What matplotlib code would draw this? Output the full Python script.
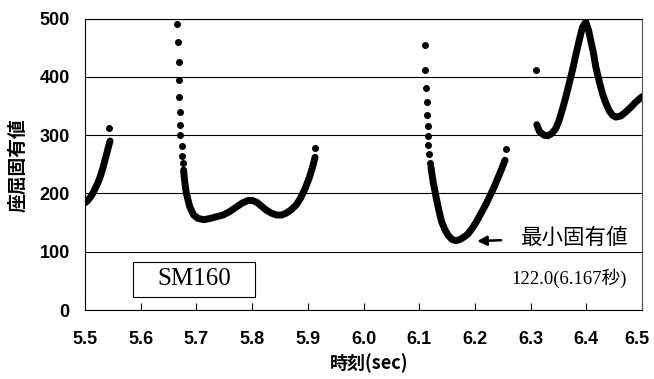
import matplotlib
matplotlib.use("Agg")
import matplotlib.pyplot as plt
import matplotlib.transforms as mtransforms
from matplotlib.patches import Rectangle

# buckling eigenvalue vs time
seg1_t = [5.500, 5.505, 5.509, 5.514, 5.518, 5.523, 5.527, 5.532, 5.536, 5.540, 5.542, 5.545]
seg1_v = [184, 188, 193, 200, 208, 218, 228, 243, 258, 272, 280, 290]
seg1_dot_t = [5.543]
seg1_dot_v = [313]

seg2_dot_t = [5.666, 5.667, 5.668, 5.668, 5.669, 5.670, 5.671, 5.671, 5.674, 5.674, 5.676]
seg2_dot_v = [490, 459, 426, 394, 365, 339, 317, 300, 281, 265, 252]
seg2_t = [5.677, 5.679, 5.682, 5.688, 5.695, 5.703, 5.714, 5.724, 5.736, 5.748,
          5.760, 5.772, 5.783, 5.793, 5.800, 5.808, 5.817, 5.826, 5.835, 5.844,
          5.853, 5.861, 5.870, 5.879, 5.887, 5.895, 5.903, 5.909, 5.913]
seg2_v = [240, 220, 200, 177, 163, 157, 155, 157, 160, 163,
          169, 177, 184, 188, 188, 185, 178, 171, 166, 163,
          163, 166, 172, 180, 192, 208, 228, 247, 262]
seg2_end_t = [5.913]
seg2_end_v = [278]

seg3_dot_t = [6.111, 6.111, 6.113, 6.114, 6.114, 6.115, 6.115, 6.116, 6.117, 6.119]
seg3_dot_v = [454, 412, 381, 357, 334, 315, 298, 283, 268, 252]
seg3_t = [6.121, 6.125, 6.130, 6.135, 6.140, 6.146, 6.152, 6.159, 6.166, 6.173,
          6.180, 6.187, 6.195, 6.203, 6.211, 6.219, 6.226, 6.234, 6.241, 6.248, 6.254]
seg3_v = [245, 220, 195, 172, 152, 138, 128, 121, 119, 121,
          125, 130, 140, 152, 166, 180, 194, 210, 226, 242, 257]
seg3_end_t = [6.256]
seg3_end_v = [277]

seg4_dot_t = [6.310]
seg4_dot_v = [412]
seg4_t = [6.311, 6.316, 6.324, 6.331, 6.338, 6.345, 6.351, 6.357, 6.363, 6.369,
          6.375, 6.381, 6.387, 6.393, 6.399, 6.404, 6.408, 6.413, 6.417, 6.423,
          6.429, 6.435, 6.441, 6.447, 6.453, 6.462, 6.471, 6.480, 6.489, 6.500]
seg4_v = [318, 306, 300, 299, 303, 311, 325, 344, 365, 388,
          411, 437, 462, 485, 494, 480, 462, 440, 417, 393,
          371, 355, 342, 334, 331, 333, 340, 348, 357, 366]

x_ticks = [5.5, 5.6, 5.7, 5.8, 5.9, 6.0, 6.1, 6.2, 6.3, 6.4, 6.5]
y_ticks = [0, 100, 200, 300, 400, 500]

min_t, min_v = 6.167, 122.0

fig = plt.figure(figsize=(6.54, 3.79), dpi=100)
ax = fig.add_axes([0.130, 0.182, 0.8517, 0.769])

for t, v in [(seg1_t, seg1_v), (seg2_t, seg2_v), (seg3_t, seg3_v), (seg4_t, seg4_v)]:
    ax.plot(t, v, color="black", lw=5, solid_capstyle="round", zorder=3)
for t, v in [(seg1_dot_t, seg1_dot_v), (seg2_dot_t, seg2_dot_v), (seg2_end_t, seg2_end_v),
             (seg3_dot_t, seg3_dot_v), (seg3_end_t, seg3_end_v), (seg4_dot_t, seg4_dot_v)]:
    ax.plot(t, v, "o", color="black", ms=4, zorder=3)

ax.set_xlim(5.5, 6.5)
ax.set_ylim(0, 500)
ax.set_xticks(x_ticks)
ax.set_yticks(y_ticks)
ax.set_xticklabels([f"{x:.1f}" for x in x_ticks])
ax.grid(axis="y", color="black", lw=0.8)
ax.set_axisbelow(True)
for s in ax.spines.values():
    s.set_linewidth(0.8)
ax.spines["right"].set_color("#555555")

ax.tick_params(axis="x", direction="in", length=5, width=0.8, pad=15)
ax.tick_params(axis="y", length=0, pad=11)
for lab in ax.get_xticklabels() + ax.get_yticklabels():
    lab.set_fontfamily("Liberation Sans")
    lab.set_fontweight("bold")
    lab.set_fontsize(13)

# nudge the last x label so it stays inside the figure
last = ax.get_xticklabels()[-1]
last.set_transform(last.get_transform() +
                   mtransforms.ScaledTranslation(-5 / 100, 0, fig.dpi_scale_trans))

fig.text(18 / 654, 1 - 165 / 379, "座屈固有値", rotation=90, ha="center", va="center",
         family=["Noto Sans CJK JP"], fontweight="bold", fontsize=13.5)
fig.text(369 / 654, 1 - 363 / 379, "時刻(sec)", ha="center", va="center",
         family=["Noto Sans CJK JP"], fontweight="bold", fontsize=13)

# SM160 label box
ax.add_patch(Rectangle((5.586, 22), 0.219, 60, fill=False, lw=0.8, ec="black", zorder=4))
ax.text(5.6955, 54, "SM160", ha="center", va="center", family=["Liberation Serif"],
        fontsize=18, zorder=5)

ax.annotate("", xy=(6.199, 118), xytext=(6.252, 120),
            arrowprops=dict(arrowstyle="-|>", color="black", lw=1.8, mutation_scale=14))
ax.text(6.283, 123, "最小固有値", ha="left", va="center",
        family=["Noto Sans CJK JP"], fontsize=15.5)
ax.text(6.473, 55, f"{min_v:.1f}({min_t:.3f}秒)", ha="right", va="center",
        family=["Liberation Serif", "Noto Sans CJK JP"], fontsize=13.5)

fig.savefig("out.png", dpi=100)
